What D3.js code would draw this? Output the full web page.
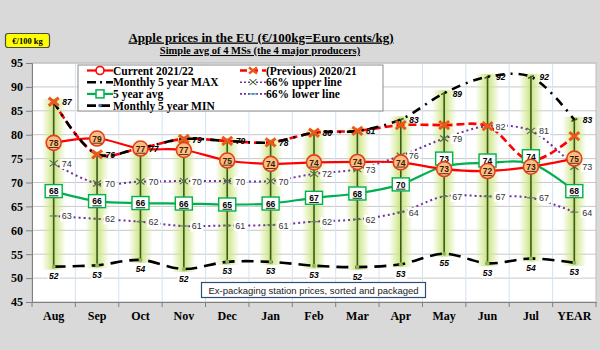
<!DOCTYPE html>
<html><head><meta charset="utf-8">
<script src="https://cdn.jsdelivr.net/npm/d3@7"></script>
<style>
html,body{margin:0;padding:0;background:#d9d9d9;}
svg{display:block;}
</style></head>
<body>
<svg id="c" width="600" height="350"></svg>
<script>
const months = ["Aug","Sep","Oct","Nov","Dec","Jan","Feb","Mar","Apr","May","Jun","Jul","YEAR"];
const current = [78.3,79.2,77.1,76.8,74.6,73.9,74.2,74.3,74.2,72.8,72.4,73.3,75.0];
const previous = [86.9,75.9,77.2,79.1,78.7,78.4,80.4,80.8,82.0,82.0,81.8,74.6,79.7];
const max5 = [86.9,75.9,77.2,79.1,78.7,78.4,80.4,80.8,83.2,88.7,92.1,92.1,83.1];
const min5 = [52.4,52.7,53.8,51.9,53.4,53.4,52.6,52.3,52.9,55.1,53.1,54.1,53.2];
const avg5 = [68.2,66.1,65.7,65.6,65.4,65.6,66.8,67.7,69.6,73.4,74.1,74.0,68.2];
const upper66 = [74.0,69.8,70.2,70.3,70.3,70.3,71.8,72.8,75.6,79.2,81.8,80.8,73.3];
const lower66 = [63.0,62.4,61.8,60.9,61.0,61.1,61.8,62.3,63.8,67.1,67.1,66.8,63.8];
const yTicks = [45,50,55,60,65,70,75,80,85,90,95];
const title = "Apple prices in the EU (€/100kg=Euro cents/kg)";
const subtitle = "Simple avg of 4 MSs (the 4 major producers)";
const unitLabel = "€/100 kg";
const noteText = "Ex-packaging station prices, sorted and packaged";

const svg = d3.select("#c");
const L = 32, R = 596, T = 63, B = 302;
const x = d3.scaleBand().domain(months).range([L, R]);
const y = d3.scaleLinear().domain([45, 95]).range([B, T]);
const cx = m => x(m) + x.bandwidth() / 2;
const serif = "'Liberation Serif','Times New Roman',serif";
const sans = "'Liberation Sans',Arial,sans-serif";
const fmt = d3.format(".0f");

// background
svg.append("rect").attr("width", 600).attr("height", 350).attr("fill", "#d9d9d9");
svg.append("rect").attr("x", L).attr("y", T).attr("width", R - L).attr("height", B - T).attr("fill", "#fff");

// gridlines
svg.append("g").selectAll("line").data(yTicks.slice(1)).join("line")
  .attr("x1", L).attr("x2", R).attr("y1", d => y(d)).attr("y2", d => y(d))
  .attr("stroke", "#c8c8c8").attr("stroke-width", 1);
svg.append("g").selectAll("line").data(months.slice(1)).join("line")
  .attr("x1", d => x(d)).attr("x2", d => x(d)).attr("y1", T).attr("y2", B)
  .attr("stroke", "#d3e3f3").attr("stroke-width", 1);
svg.append("rect").attr("x", L).attr("y", T).attr("width", R - L).attr("height", B - T)
  .attr("fill", "none").attr("stroke", "#bdbdbd");

// gradient glow
const defs = svg.append("defs");
const g1 = defs.append("linearGradient").attr("id", "glow").attr("x1", "0").attr("x2", "1").attr("y1", "0").attr("y2", "0");
g1.append("stop").attr("offset", "0%").attr("stop-color", "#d3e994").attr("stop-opacity", 0);
g1.append("stop").attr("offset", "30%").attr("stop-color", "#d3e994").attr("stop-opacity", 0.7);
g1.append("stop").attr("offset", "50%").attr("stop-color", "#c4e07a").attr("stop-opacity", 0.95);
g1.append("stop").attr("offset", "70%").attr("stop-color", "#d3e994").attr("stop-opacity", 0.7);
g1.append("stop").attr("offset", "100%").attr("stop-color", "#d3e994").attr("stop-opacity", 0);

const bars = months.map((m, i) => ({m, hi: max5[i], lo: min5[i]}));
svg.append("g").selectAll("rect").data(bars).join("rect")
  .attr("x", d => cx(d.m) - 12).attr("width", 24)
  .attr("y", d => y(d.hi) - 3).attr("height", d => y(d.lo) - y(d.hi) + 6)
  .attr("fill", "url(#glow)");
svg.append("g").selectAll("line").data(bars).join("line")
  .attr("x1", d => cx(d.m)).attr("x2", d => cx(d.m))
  .attr("y1", d => y(d.hi)).attr("y2", d => y(d.lo))
  .attr("stroke", "#3b5a1c").attr("stroke-width", 1.6);
svg.append("g").selectAll("path").data(bars).join("path")
  .attr("d", d => `M${cx(d.m)-3},${y(d.hi)+1.5}L${cx(d.m)},${y(d.hi)}L${cx(d.m)+3},${y(d.hi)-1}`)
  .attr("stroke", "#3b5a1c").attr("stroke-width", 1.6).attr("fill", "none");

// axes
const yAxis = svg.append("g").attr("transform", `translate(${L},0)`)
  .call(d3.axisLeft(y).tickValues(yTicks).tickSize(6).tickPadding(3));
yAxis.select(".domain").attr("stroke", "#7f7f7f");
yAxis.selectAll(".tick line").attr("stroke", "#7f7f7f");
yAxis.selectAll("text").attr("font-family", serif).attr("font-weight", "bold").attr("font-size", 12).attr("fill", "#000");

const xAxis = svg.append("g").attr("transform", `translate(0,${B})`)
  .call(d3.axisBottom(x).tickSize(0).tickPadding(9));
xAxis.select(".domain").attr("stroke", "#7f7f7f").attr("stroke-width", 1.2);
xAxis.selectAll("text").attr("font-family", serif).attr("font-weight", "bold").attr("font-size", 12).attr("fill", "#000");
svg.append("g").selectAll("line").data(months.concat(["_end"])).join("line")
  .attr("x1", (d, i) => L + i * x.bandwidth()).attr("x2", (d, i) => L + i * x.bandwidth())
  .attr("y1", B).attr("y2", B + 5).attr("stroke", "#7f7f7f");

// lines
const line = d3.line().x((d, i) => cx(months[i])).y(d => y(d)).curve(d3.curveCatmullRom.alpha(0.5));
function drawLine(data, color, width, dash) {
  svg.append("path").datum(data).attr("d", line).attr("fill", "none")
    .attr("stroke", color).attr("stroke-width", width)
    .attr("stroke-dasharray", dash || null).attr("stroke-linecap", "butt");
}
drawLine(lower66, "#7030a0", 2, "2,3");
drawLine(upper66, "#7030a0", 2, "2,3");
drawLine(min5, "#000", 2.6, "12,7");
drawLine(avg5, "#00b050", 2.2);
drawLine(current, "#ff0000", 2.2);
drawLine(previous, "#ff0000", 2.6, "8,4");
drawLine(max5, "#000", 2.6, "9,6,2,6");

// markers
svg.append("g").selectAll("circle").data(min5).join("circle")
  .attr("cx", (d, i) => cx(months[i])).attr("cy", d => y(d)).attr("r", 2)
  .attr("fill", "#8fb85a");
svg.append("g").selectAll("line").data(lower66).join("line")
  .attr("x1", (d, i) => cx(months[i]) - 4).attr("x2", (d, i) => cx(months[i]) + 4)
  .attr("y1", d => y(d)).attr("y2", d => y(d)).attr("stroke", "#5a8a4a").attr("stroke-width", 1.2);
svg.append("g").selectAll("path").data(upper66).join("path")
  .attr("d", (d, i) => { const a = cx(months[i]), b = y(d); return `M${a-4},${b-3}L${a+4},${b+3}M${a-4},${b+3}L${a+4},${b-3}`; })
  .attr("stroke", "#4e6b3a").attr("stroke-width", 1.1).attr("fill", "none");
svg.append("g").selectAll("path").data(previous).join("path")
  .attr("d", (d, i) => { const a = cx(months[i]), b = y(d); return `M${a-5},${b-4}L${a+5},${b+4}M${a-5},${b+4}L${a+5},${b-4}`; })
  .attr("stroke", "#e8581a").attr("stroke-width", 3).attr("fill", "none");

// labels with white backgrounds
function bgLabel(data, dx, dy, opts) {
  const g = svg.append("g");
  data.forEach((v, i) => {
    const t = g.append("text").attr("x", cx(months[i]) + dx).attr("y", y(v) + dy)
      .attr("font-family", opts.family).attr("font-size", opts.size)
      .attr("font-weight", opts.weight || "normal").attr("font-style", opts.style || "normal")
      .attr("fill", opts.color).attr("text-anchor", opts.anchor || "start")
      .text(fmt(v));
    if (opts.bg) {
      const bb = t.node().getBBox();
      g.insert("rect", () => t.node()).attr("x", bb.x - 1.5).attr("y", bb.y).attr("width", bb.width + 3).attr("height", bb.height).attr("fill", "#fff");
    }
  });
}
bgLabel(lower66, 8, 3.5, {family: sans, size: 9, color: "#333", bg: true});
bgLabel(upper66, 8, 3.5, {family: sans, size: 9, color: "#333", bg: true});
bgLabel(min5, 0, 12.5, {family: sans, size: 8.5, weight: "bold", style: "italic", color: "#000", anchor: "middle", bg: true});
bgLabel(max5, 8.5, 3.5, {family: sans, size: 8.5, weight: "bold", style: "italic", color: "#000"});

// 5yr avg squares (nudged up where they would collide with the current-year circle)
const ag = svg.append("g");
avg5.forEach((v, i) => {
  const ya = y(v), yc = y(current[i]);
  const cy = Math.abs(ya - yc) < 10.5 ? yc - 10.5 : ya;
  ag.append("rect").attr("x", cx(months[i]) - 8.5).attr("y", cy - 6.5).attr("width", 17).attr("height", 13)
    .attr("fill", "#fff").attr("stroke", "#00b050").attr("stroke-width", 1.4);
  ag.append("text").attr("x", cx(months[i])).attr("y", cy + 3.3).attr("text-anchor", "middle")
    .attr("font-family", sans).attr("font-size", 8.5).attr("font-weight", "bold")
    .attr("text-decoration", "underline").attr("fill", "#000").text(fmt(v));
});
// current circles
const cg = svg.append("g");
current.forEach((v, i) => {
  cg.append("circle").attr("cx", cx(months[i])).attr("cy", y(v)).attr("r", 7.5)
    .attr("fill", "#fbbf86").attr("stroke", "#e2401c").attr("stroke-width", 1.6);
  cg.append("text").attr("x", cx(months[i])).attr("y", y(v) + 3.2).attr("text-anchor", "middle")
    .attr("font-family", sans).attr("font-size", 8.5).attr("font-weight", "bold")
    .attr("text-decoration", "underline").attr("fill", "#3a1a00").text(fmt(v));
});

// legend
const lg = svg.append("g");
lg.append("rect").attr("x", 78).attr("y", 65).attr("width", 305).attr("height", 46)
  .attr("fill", "#fff").attr("stroke", "#8c8c8c");
const legend = [
  {t: "Current 2021/22", col: 0, row: 0, type: "current"},
  {t: "Monthly 5 year MAX", col: 0, row: 1, type: "max"},
  {t: "5 year avg", col: 0, row: 2, type: "avg"},
  {t: "Monthly 5 year MIN", col: 0, row: 3, type: "min"},
  {t: "(Previous) 2020/21", col: 1, row: 0, type: "prev"},
  {t: "66% upper line", col: 1, row: 1, type: "up"},
  {t: "66% lower line", col: 1, row: 2, type: "low"}
];
legend.forEach(d => {
  const x0 = d.col ? 240 : 87, x1 = d.col ? 266 : 113, yy = 70.5 + d.row * 11.7, mid = (x0 + x1) / 2;
  const ln = (c, w, dash) => lg.append("line").attr("x1", x0).attr("x2", x1).attr("y1", yy).attr("y2", yy)
    .attr("stroke", c).attr("stroke-width", w).attr("stroke-dasharray", dash || null);
  if (d.type === "current") {
    ln("#ff0000", 2.2);
    lg.append("circle").attr("cx", mid).attr("cy", yy).attr("r", 4).attr("fill", "#fff").attr("stroke", "#ff0000").attr("stroke-width", 1.6);
  } else if (d.type === "max") {
    ln("#000", 2.6, "9,4,2,4");
  } else if (d.type === "avg") {
    ln("#00b050", 2.2);
    lg.append("rect").attr("x", mid - 4).attr("y", yy - 4).attr("width", 8).attr("height", 8).attr("fill", "#fff").attr("stroke", "#00b050").attr("stroke-width", 1.5);
  } else if (d.type === "min") {
    ln("#000", 2.6, "9,5");
    lg.append("circle").attr("cx", mid).attr("cy", yy).attr("r", 1.8).attr("fill", "#4472c4");
  } else if (d.type === "prev") {
    ln("#ff0000", 2.6, "7,4");
    lg.append("path").attr("d", `M${mid-4},${yy-3}L${mid+4},${yy+3}M${mid-4},${yy+3}L${mid+4},${yy-3}`).attr("stroke", "#e8581a").attr("stroke-width", 2.5);
  } else if (d.type === "up") {
    ln("#7030a0", 1.6, "2,2");
    lg.append("path").attr("d", `M${mid-3.5},${yy-3}L${mid+3.5},${yy+3}M${mid-3.5},${yy+3}L${mid+3.5},${yy-3}`).attr("stroke", "#4e6b3a").attr("stroke-width", 1.1);
  } else {
    ln("#7030a0", 1.6, "2,2");
    lg.append("line").attr("x1", mid - 4).attr("x2", mid + 4).attr("y1", yy).attr("y2", yy).attr("stroke", "#4bacc6").attr("stroke-width", 1.4);
  }
  lg.append("text").attr("x", x1).attr("y", yy + 4).attr("font-family", serif).attr("font-weight", "bold")
    .attr("font-size", 11.5).attr("fill", "#000").text(d.t);
});

// note box
svg.append("rect").attr("x", 201.5).attr("y", 282.5).attr("width", 224).attr("height", 15)
  .attr("fill", "#fff").attr("stroke", "#2f4d7a").attr("stroke-width", 1.2);
svg.append("text").attr("x", 313.5).attr("y", 293.5).attr("text-anchor", "middle")
  .attr("font-family", sans).attr("font-size", 9.5).attr("fill", "#222").text(noteText);

// titles
svg.append("text").attr("x", 261).attr("y", 41.5).attr("text-anchor", "middle")
  .attr("font-family", serif).attr("font-weight", "bold").attr("font-size", 13)
  .attr("text-decoration", "underline").attr("fill", "#000").text(title);
svg.append("text").attr("x", 260).attr("y", 54).attr("text-anchor", "middle")
  .attr("font-family", serif).attr("font-weight", "bold").attr("font-size", 10.5)
  .attr("text-decoration", "underline").attr("fill", "#000").text(subtitle);

// unit box
svg.append("rect").attr("x", 5.5).attr("y", 33.5).attr("width", 44).attr("height", 14).attr("rx", 2.5)
  .attr("fill", "#ffff00").attr("stroke", "#4a4a4a").attr("stroke-width", 1.2);
svg.append("text").attr("x", 27.5).attr("y", 43.5).attr("text-anchor", "middle")
  .attr("font-family", serif).attr("font-weight", "bold").attr("font-size", 8.5).attr("fill", "#000").text(unitLabel);
</script>
</body></html>
